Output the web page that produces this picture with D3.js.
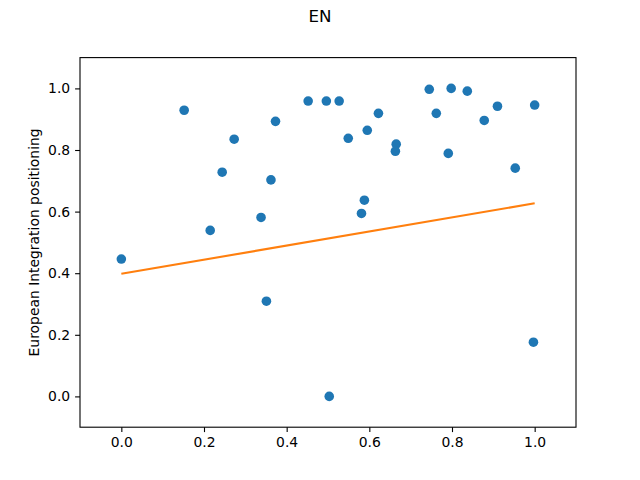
<!DOCTYPE html>
<html><head><meta charset="utf-8">
<script src="https://cdn.jsdelivr.net/npm/d3@7"></script>
<style>body{margin:0;background:#fff}svg{display:block;font-family:"DejaVu Sans",sans-serif}</style>
</head><body><svg id="c" width="640" height="480"></svg>
<script>
const title = "EN";
const yLabel = "European Integration positioning";
const xVals = [0.0, 0.152, 0.273, 0.244, 0.215, 0.338, 0.362, 0.373, 0.452, 0.496, 0.527, 0.549, 0.595, 0.622, 0.665, 0.663, 0.588, 0.581, 0.745, 0.798, 0.837, 0.762, 0.791, 0.878, 0.910, 0.953, 1.0, 0.351, 0.503, 0.997];
const yVals = [0.446, 0.929, 0.835, 0.728, 0.539, 0.581, 0.703, 0.893, 0.959, 0.959, 0.959, 0.838, 0.864, 0.919, 0.819, 0.796, 0.637, 0.594, 0.997, 1.0, 0.991, 0.919, 0.789, 0.896, 0.942, 0.741, 0.946, 0.309, 0.0, 0.176];
const fitX = [0.0, 1.0];
const fitY = [0.398, 0.627];
const xTicks = [0.0, 0.2, 0.4, 0.6, 0.8, 1.0];
const yTicks = [0.0, 0.2, 0.4, 0.6, 0.8, 1.0];

const svg = d3.select("#c");
const L = 80, R = 576, T = 57.6, B = 427.2;
const x = d3.scaleLinear().domain([-0.1, 1.1]).range([L, R]);
const y = d3.scaleLinear().domain([-0.1, 1.1]).range([B, T]);

svg.append("text").attr("x", 320).attr("y", 22).attr("text-anchor", "middle")
  .attr("font-size", 16.7).text(title);

const gx = svg.append("g").attr("transform", `translate(0,${B})`)
  .call(d3.axisBottom(x).tickValues(xTicks).tickFormat(d3.format(".1f")).tickSize(4.9).tickPadding(4.9));
const gy = svg.append("g").attr("transform", `translate(${L},0)`)
  .call(d3.axisLeft(y).tickValues(yTicks).tickFormat(d3.format(".1f")).tickSize(4.9).tickPadding(4.9));
[gx, gy].forEach(g => {
  g.select(".domain").remove();
  g.selectAll("line").attr("stroke", "#000").attr("stroke-width", 1.1);
  g.selectAll("text").attr("font-size", 13.9).attr("fill", "#000").attr("font-family", "DejaVu Sans");
});

svg.append("text").attr("transform", `translate(39,${(T + B) / 2}) rotate(-90)`)
  .attr("text-anchor", "middle").attr("font-size", 13.9).text(yLabel);

const pts = xVals.map((v, i) => [v, yVals[i]]);
svg.append("g").selectAll("circle").data(pts).join("circle")
  .attr("cx", d => x(d[0])).attr("cy", d => y(d[1])).attr("r", 4.8)
  .attr("fill", "#1f77b4");

svg.append("path").datum(fitX.map((v, i) => [v, fitY[i]]))
  .attr("d", d3.line().x(d => x(d[0])).y(d => y(d[1])))
  .attr("fill", "none").attr("stroke", "#ff7f0e").attr("stroke-width", 2.1);

svg.append("rect").attr("x", L).attr("y", T).attr("width", R - L).attr("height", B - T)
  .attr("fill", "none").attr("stroke", "#000").attr("stroke-width", 1.1);
</script></body></html>
